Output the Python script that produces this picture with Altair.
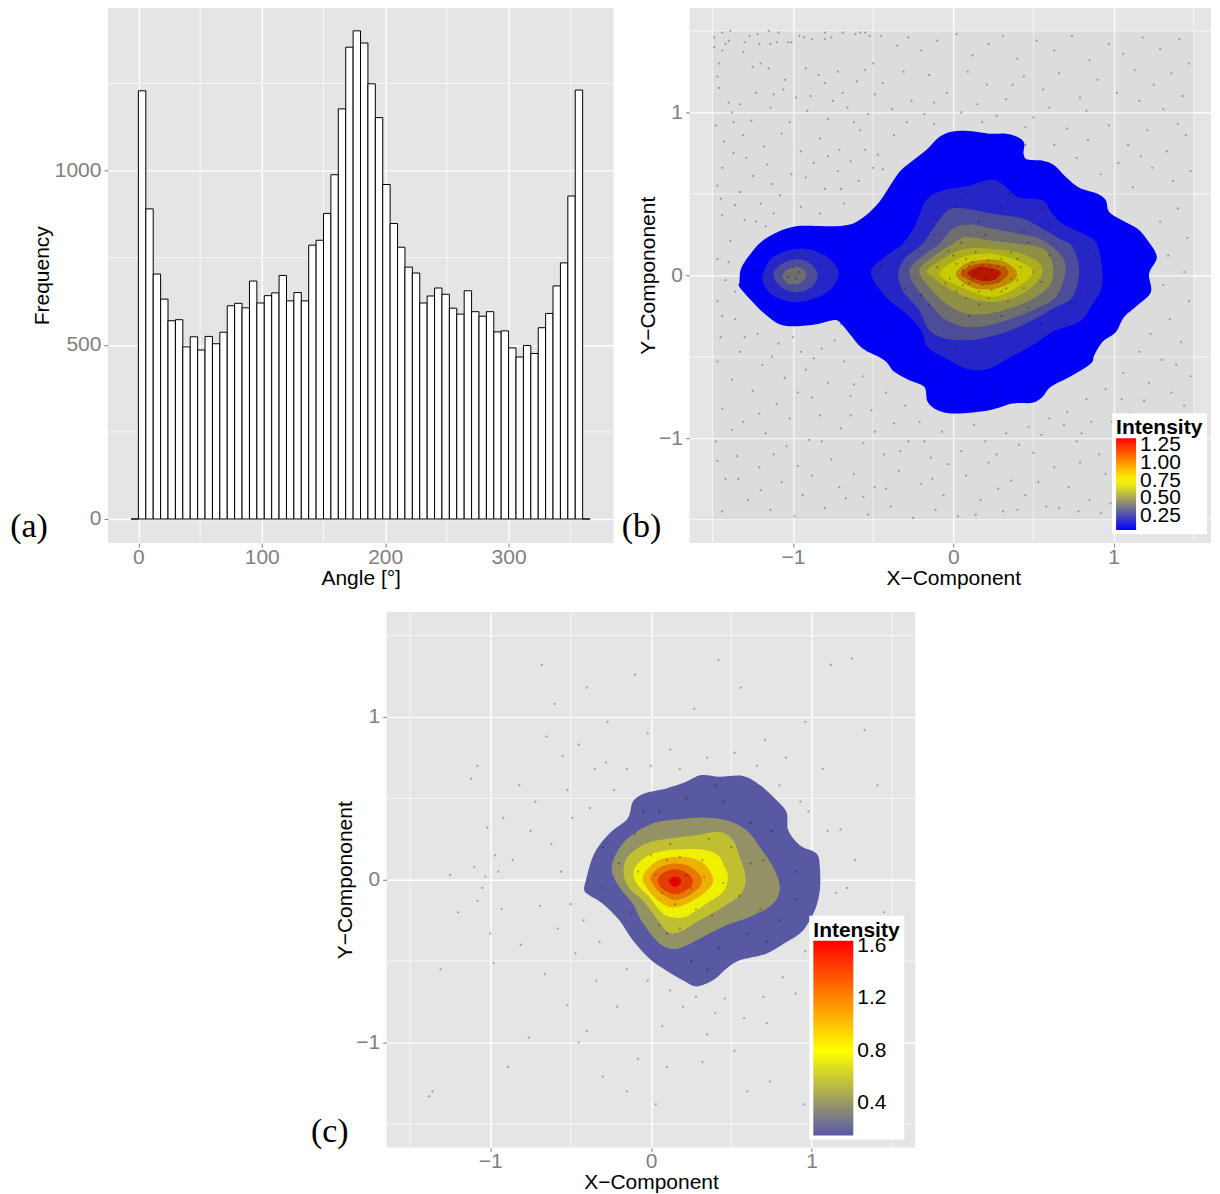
import altair as alt
import pandas as pd

SANS = "Liberation Sans"
SERIF = "Liberation Serif"
GREY = "#7f7f7f"
PANEL = "#e5e5e5"

# ---------- panel (a) histogram ----------
bin_width = 6
hist_first_edge = -6
hist_counts = [0, 1229, 890, 703, 631, 569, 572, 494, 523, 485, 524, 503, 536, 612, 619, 606, 683, 620, 641, 649,
               699, 626, 650, 626, 786, 800, 877, 988, 1177, 1354, 1401, 1366, 1249, 1152, 960, 848, 780, 723,
               706, 620, 640, 663, 645, 605, 588, 655, 595, 582, 595, 537, 540, 491, 465, 498, 475, 549, 590,
               669, 735, 927, 1231, 0]
a_x_major = [0, 100, 200, 300]
a_x_minor = [50, 150, 250, 350]
a_y_major = [0, 500, 1000]
a_y_minor = [250, 750, 1250]

# ---------- panel (b) contours: (level, part, [(x, y), ...]) ----------
b_levels = [0.06, 0.175, 0.29, 0.40, 0.52, 0.635, 0.75, 0.92, 1.08, 1.25]
b_outer = [(-1.333,-.041),(-1.323,.041),(-1.271,.123),(-1.198,.205),(-1.095,.266),(-.980,.301),(-.856,.303),(-.731,.301),
           (-.627,.317),(-.544,.368),(-.461,.450),(-.399,.542),(-.336,.634),(-.264,.695),(-.170,.767),(-.087,.849),
           (-.004,.883),(.100,.885),(.224,.869),(.328,.869),(.401,.849),(.442,.812),(.438,.746),(.463,.710),(.557,.703),
           (.629,.675),(.702,.603),(.785,.538),(.899,.501),(.951,.460),(.972,.389),(1.055,.337),(1.149,.286),(1.211,.215),
           (1.269,.112),(1.221,.010),(1.232,-.102),(1.149,-.184),(1.065,-.256),(1.014,-.348),(.930,-.409),(.879,-.491),
           (.858,-.542),(.744,-.614),(.609,-.685),(.557,-.746),(.494,-.783),(.370,-.787),(.224,-.828),(.017,-.849),
           (-.098,-.828),(-.160,-.777),(-.181,-.685),(-.274,-.644),(-.368,-.593),(-.430,-.521),(-.565,-.450),(-.648,-.358),
           (-.710,-.286),(-.752,-.276),(-.856,-.301),(-.980,-.313),(-1.084,-.301),(-1.178,-.235),(-1.261,-.153),(-1.333,-.072)]
b_l2_main = [(-.513,.014),(-.430,.112),(-.316,.194),(-.233,.317),(-.170,.460),(-.066,.521),(.079,.546),(.235,.587),(.318,.552),
             (.401,.481),(.557,.460),(.609,.389),(.681,.317),(.806,.256),(.899,.184),(.930,-.051),(.858,-.194),(.785,-.286),
             (.619,-.348),(.494,-.429),(.359,-.501),(.224,-.573),(.100,-.579),(-.046,-.511),(-.160,-.440),(-.201,-.337),
             (-.295,-.235),(-.420,-.133)]
b_l2_left = [(-1.188,0),(-1.136,.102),(-1.022,.153),(-.897,.160),(-.773,.102),(-.714,.010),(-.762,-.082),(-.866,-.143),
             (-1.001,-.164),(-1.126,-.123),(-1.178,-.061)]
b_l3_left = [(-1.122,0),(-1.084,.061),(-1.001,.096),(-.918,.088),(-.856,.031),(-.849,-.020),(-.897,-.082),(-.991,-.102),(-1.074,-.072)]
b_l4_left = [(-1.063,0),(-1.032,.037),(-.980,.051),(-.928,.031),(-.918,-.010),(-.960,-.051),(-1.022,-.055),(-1.053,-.031)]
b_l3_main = [(-.343,.020),(-.295,.112),(-.191,.194),(-.098,.327),(-.015,.409),(.120,.403),(.266,.374),(.432,.348),(.557,.286),
             (.660,.225),(.744,.174),(.785,.031),(.744,-.133),(.619,-.205),(.494,-.276),(.359,-.337),(.224,-.378),(.100,-.399),
             (-.046,-.389),(-.150,-.337),(-.212,-.215),(-.316,-.092)]
b_l4_main = [(-.274,.031),(-.201,.112),(-.087,.194),(-.004,.286),(.100,.311),(.245,.286),(.401,.256),(.557,.215),(.681,.112),
             (.698,.010),(.640,-.133),(.515,-.205),(.390,-.256),(.224,-.307),(.079,-.317),(-.046,-.276),(-.129,-.194),(-.233,-.072)]
b_l5 = [(-.212,.031),(-.129,.112),(-.004,.194),(.079,.235),(.224,.215),(.390,.194),(.557,.164),(.619,.072),(.609,-.051),
        (.515,-.133),(.380,-.194),(.224,-.235),(.079,-.235),(-.046,-.174),(-.150,-.072)]
b_l6 = [(-.160,.031),(-.046,.112),(.079,.164),(.224,.164),(.390,.143),(.515,.092),(.557,.031),(.515,-.051),(.390,-.133),
        (.224,-.164),(.079,-.133),(-.046,-.072),(-.129,-.010)]
b_l7 = [(-.087,.010),(-.004,.082),(.100,.123),(.224,.133),(.370,.102),(.474,.051),(.494,.010),(.432,-.051),(.328,-.112),
        (.224,-.133),(.100,-.092),(-.004,-.051)]
b_l8 = [(.017,.010),(.079,.072),(.183,.096),(.307,.088),(.390,.031),(.380,-.031),(.266,-.082),(.141,-.082),(.058,-.041)]
b_l9 = [(.048,.014),(.120,.061),(.224,.072),(.328,.041),(.339,0),(.266,-.051),(.162,-.055),(.079,-.020)]
b_l10 = [(.089,.014),(.162,.051),(.245,.041),(.297,.014),(.245,-.031),(.162,-.031)]
b_contours = [(b_levels[0], "o", b_outer), (b_levels[1], "m", b_l2_main), (b_levels[1], "l", b_l2_left),
              (b_levels[2], "m", b_l3_main), (b_levels[2], "l", b_l3_left), (b_levels[3], "m", b_l4_main),
              (b_levels[3], "l", b_l4_left), (b_levels[4], "m", b_l5), (b_levels[5], "m", b_l6),
              (b_levels[6], "m", b_l7), (b_levels[7], "m", b_l8), (b_levels[8], "m", b_l9), (b_levels[9], "m", b_l10)]
b_legend_values = [0.25, 0.5, 0.75, 1.0, 1.25]
b_color_domain = [0.06, 0.75, 1.34]
b_color_range = ["#0000ff", "#ffff00", "#ff0000"]
b_cloud = [(-1.5, 1.5, -1.5, 1.5)]
b_dots = [(-1.49,1.46),(-1.44,1.49),(-1.39,1.50),(-1.15,1.50),(-1.09,1.49),(-1.27,1.47),(-1.22,1.48),(-1.40,1.44),(-1.42,1.42),
 (-1.49,1.40),(-1.44,1.38),(-1.30,1.43),(-1.31,1.37),(-1.21,1.42),(-1.14,1.42),(-1.10,1.43),(-1.03,1.43),(-1.01,1.43),(-.96,1.47),
 (-.93,1.46),(-.88,1.45),(-.80,1.49),(-.80,1.45),(-.76,1.46),(-.69,1.49),(-.61,1.48),(-.58,1.49),(-.55,1.49),(-.52,1.47),(-.45,1.47),
 (-1.46,1.30),(-1.47,1.22),(-1.46,1.15),(-1.40,1.06),(-1.33,1.05),(-1.25,1.28),(-1.20,1.30),(-1.15,1.27),(-1.05,1.20),(-1.06,1.14),
 (-.92,1.27),(-.89,1.10),(-.84,1.23),(-.80,1.18),(-.72,1.25),(-.69,1.12),(-.60,1.19),(-.55,1.26),(-.50,1.30),(-.44,1.18),
 (-.35,1.41),(-.28,1.46),(-.20,1.38),(-.10,1.44),(.02,1.48),(.12,1.35),(.22,1.42),(.31,1.47),(.40,1.33),(.52,1.44),(.63,1.38),(.74,1.47),
 (.85,1.32),(.97,1.42),(1.06,1.36),(1.18,1.46),(1.29,1.39),(1.41,1.45),(1.47,1.30),(1.36,1.24),(1.25,1.17),(1.13,1.26),(1.02,1.12),(.90,1.20),
 (.79,1.09),(.66,1.24),(.56,1.14),(.44,1.22),(.33,1.08),(.21,1.17),(.09,1.25),(-.04,1.12),(-.15,1.23),(-.26,1.07),(-.38,1.02),(-.53,.99),
 (-.66,1.03),(-.78,.96),(-.91,1.01),(-1.02,.94),(-1.14,1.03),(-1.26,.95),(-1.38,1.00),(-1.48,.92),(-1.43,.82),(-1.31,.86),(-1.18,.79),
 (-1.07,.87),(-.95,.76),(-.83,.84),(-.71,.77),(-.58,.89),(-.47,.74),(-.37,.86),(-.29,.94),(-.18,.99),(.05,1.00),(.27,.98),(.50,.97),(.71,.90),
 (.84,.83),(.97,.92),(1.09,.80),(1.21,.89),(1.33,.76),(1.45,.86),(1.48,.64),(1.37,.58),(1.24,.66),(1.12,.54),(1.40,.41),(1.29,.33),(1.46,.23),
 (1.34,.12),(1.44,.02),(1.31,-.06),(1.47,-.16),(1.35,-.27),(1.23,-.36),(1.42,-.41),(1.30,-.52),(1.16,-.47),(1.48,-.62),(1.36,-.72),(1.22,-.66),
 (1.06,-.60),(.95,-.70),(.83,-.76),(.71,-.84),(.60,-.88),(.47,-.93),(.33,-.97),(.20,-1.02),(.05,-1.08),(-.07,-.96),(-.21,-.90),(-.30,-.80),
 (-.42,-.72),(-.56,-.62),(-.68,-.53),(-.82,-.45),(-.95,-.47),(-1.09,-.42),(-1.22,-.36),(-1.36,-.27),(-1.47,-.16),(-1.42,-.03),(-1.47,.10),
 (-1.39,.21),(-1.30,.34),(-1.44,.37),(-1.20,.44),(-1.33,.51),(-1.47,.55),(-1.08,.49),(-.95,.42),(-.80,.53),(-.68,.44),(-.59,.58),(-.72,.64),
 (-.87,.69),(-1.01,.62),(-1.16,.68),(-1.29,.72),(-1.44,.66),(-.50,.66),(-1.45,-.38),(-1.33,-.47),(-1.19,-.55),(-1.05,-.63),(-.92,-.58),(-.78,-.66),
 (-.64,-.74),(-.51,-.83),(-.37,-.91),(-1.47,-.53),(-1.38,-.64),(-1.25,-.71),(-1.10,-.79),(-.97,-.72),(-.83,-.86),(-.70,-.94),(-.56,-1.03),(-.43,-1.10),
 (-.28,-1.02),(-.14,-1.12),(-1.44,-.82),(-1.31,-.90),(-1.17,-.97),(-1.04,-1.05),(-.90,-1.01),(-.76,-1.13),(-.62,-1.22),(-.49,-1.30),(-.34,-1.20),
 (-.20,-1.28),(-.06,-1.35),(.08,-1.23),(.22,-1.15),(.36,-1.26),(.50,-1.09),(.63,-1.18),(.77,-1.02),(.91,-1.10),(.99,-.90),(1.10,-.85),
 (-1.48,-1.02),(-1.35,-1.11),(-1.21,-1.18),(-1.07,-1.27),(-.94,-1.35),(-.80,-1.43),(-.67,-1.37),(-.53,-1.47),(-.39,-1.42),(-.25,-1.49),(-.11,-1.44),
 (.03,-1.48),(.17,-1.38),(.31,-1.45),(.45,-1.35),(.58,-1.42),(.72,-1.30),(.85,-1.38),(-1.42,-1.25),(-1.28,-1.38),(-1.44,-1.45),(-1.14,-1.44),(-.99,-1.48),
 (.92,-1.46),(1.00,-1.25),(.80,-.97),(-.02,.60),(.12,.75),(.25,.70),(.38,.60),(-.12,.35),(.02,.42),(.16,.33),(.30,.42),(.44,.27),(.60,.30),(.74,.37),
 (.88,.33),(1.02,.18),(1.15,.10),(1.02,-.05),(1.10,-.22),(.95,-.22),(.83,-.33),(.70,-.47),(.55,-.55),(.40,-.62),(.25,-.70),(.10,-.72),(-.05,-.62),
 (-.25,-.50),(-.40,-.33),(-.55,-.22),(-.65,-.05),(-.60,.12),(-.45,.24),(-.72,.20),(-.85,.22),(-1.0,.24),(-1.15,.18),(-1.25,.03),(-1.18,-.17),(-1.0,-.24),
 (-.85,-.22),(-.72,-.17),(-1.0,.05),(-.98,-.02),(-1.03,-.01),(-.96,.02),(-.30,-.08),(-.15,-.18),(-.05,-.05),(.0,.12),(.06,.03),(.10,-.05),(.14,.02),(.18,.06),
 (.20,-.02),(.24,.03),(.28,-.04),(.32,.05),(.16,-.10),(.24,-.09),(.08,.10),(.30,.10),(.42,.05),(.44,-.08),(.34,-.16),(.16,-.18),(-.03,.15),(.55,-.04),
 (-1.37,.94),(-1.23,1.12),(-1.12,1.11),(-.98,1.09),(-.75,1.07),(-.62,.94),(-.49,1.11),(-.31,1.25),(-.12,1.06),(.15,1.05),(.37,1.17),(.60,1.03),(.83,1.01),
 (1.16,1.07),(1.31,1.02),(1.43,1.10),(1.40,.93),(1.17,.73),(1.03,.69),(.92,.62),(.77,.72),(.63,.80),(.45,.91),(.18,.94),(-.12,.93),(-.44,.65),(-.55,.77),
 (-.64,.70),(-.78,.73),(-.92,.60),(-1.13,.56),(-1.25,.61),(-1.37,.75),(-1.45,.47),(-1.36,.43),(-1.23,.33),(-1.12,.38),(-.83,.38),(-.70,.53),(-1.40,.08),
 (-1.36,-.10),(-1.44,-.25),(-1.30,-.38),(-1.13,-.50),(-1.00,-.38),(-.87,-.51),(-.74,-.40),(-.62,-.67),(-.88,-.75),(-1.02,-.88),(-1.21,-.85),(-1.38,-.95),
 (-1.47,-1.14),(-1.12,-1.10),(-.97,-1.17),(-.82,-1.02),(-.64,-.86),(-.49,-.96),(-.33,-1.08),(-.18,-1.02),(-.03,-1.16),(.13,-.92),(.27,-1.10),(.41,-1.04),
 (.55,-.98),(.69,-.92),(.86,-.90),(1.05,-.76),(1.19,-.77),(1.30,-.88),(1.44,-.80),(1.39,-.55),(1.45,-1.00),(1.33,-1.10),(1.20,-1.00),(1.05,-1.00),
 (-.71,-1.30),(-.42,-1.31),(-.56,-1.36),(-.88,-1.23),(-1.20,-1.32),(-1.34,-1.25),(-.13,-1.25),(.14,-1.47),(.28,-1.31),(.40,-1.44),(.53,-1.27),(.66,-1.43),
 (.79,-1.15),(.95,-1.22),(.78,-1.45),(.98,-1.40),(-1.17,.30),(-.70,-.30),(.45,.80),(.15,.62),(-.08,.68),(-.25,.58),(-.38,.40),(-.45,.05),(-.52,-.12),(-.30,-.30),
 (-.15,-.62),(.02,-.45),(.20,-.45),(.35,-.55),(.55,-.30),(.70,-.30),(.80,-.10),(.85,.15),(.55,.40),(.35,.50),(.08,.50),(-.12,.25),(-.22,.15),(-.20,-.12),
 (.30,-.25),(.10,-.25),(.47,-.20),(.60,.12),(.47,.20),(.20,.25),(.05,.20),(-.10,.05),(.02,-.10),(.10,.06),(.22,.09),(.28,.06),(.36,-.02),(.12,-.02),(.18,-.06),
 (.26,-.02),(.30,-.10),(.22,-.14),(.08,-.14),(.40,.10),(.50,.02),(.36,.14),(.14,.14),(.02,.07),(-.02,-.02),(.06,-.06),(.33,-.08),(.40,-.03),(.12,.08),(.16,.04),(.21,.00),(.23,.06)]

# ---------- panel (c) contours ----------
c_levels = [0.16, 0.40, 0.60, 0.80, 1.00, 1.20, 1.40, 1.60]
c_l1 = [(-.415,-.065),(-.405,-.003),(-.353,.161),(-.259,.284),(-.145,.376),(-.113,.479),(-.041,.530),(.095,.561),(.219,.602),(.313,.643),
        (.427,.633),(.573,.637),(.677,.582),(.760,.510),(.843,.417),(.854,.305),(.926,.212),(1.030,.161),(1.051,.079),(1.051,-.065),(1.020,-.188),
        (.947,-.311),(.843,-.383),(.718,-.454),(.552,-.495),(.469,-.547),(.386,-.618),(.282,-.655),(.199,-.618),(.095,-.557),(-.009,-.485),
        (-.113,-.372),(-.197,-.249),(-.300,-.147),(-.384,-.095)]
c_l2 = [(-.244,.058),(-.217,.161),(-.134,.264),(.011,.346),(.157,.370),(.323,.383),(.469,.366),(.594,.305),(.677,.202),(.760,.079),(.802,-.044),
        (.760,-.147),(.614,-.229),(.469,-.280),(.323,-.352),(.199,-.413),(.115,-.424),(.032,-.372),(-.061,-.249),(-.113,-.147),(-.197,-.044)]
c_l3 = [(-.170,.038),(-.145,.141),(-.030,.223),(.115,.253),(.282,.274),(.427,.294),(.510,.243),(.552,.141),(.589,.017),(.562,-.085),(.448,-.167),
        (.303,-.249),(.178,-.321),(.105,-.321),(.043,-.249),(-.051,-.126),(-.134,-.054)]
c_l4 = [(-.109,.038),(-.082,.099),(.011,.161),(.157,.186),(.323,.186),(.417,.151),(.459,.079),(.479,.017),(.448,-.075),(.344,-.147),(.219,-.225),
        (.115,-.229),(.053,-.188),(-.009,-.106),(-.082,-.034)]
c_l5 = [(-.051,.017),(-.009,.079),(.074,.130),(.199,.141),(.313,.110),(.375,.038),(.382,-.024),(.313,-.095),(.199,-.157),(.115,-.167),(.032,-.116),(-.030,-.044)]
c_l6 = [(-.003,.017),(.043,.069),(.136,.100),(.240,.083),(.313,.017),(.303,-.044),(.219,-.106),(.136,-.122),(.053,-.075),(.011,-.024)]
c_l7 = [(.043,.007),(.084,.048),(.157,.065),(.230,.038),(.261,-.013),(.219,-.065),(.147,-.089),(.084,-.065),(.053,-.034)]
c_l8 = [(.111,-.007),(.136,.017),(.167,.017),(.188,-.007),(.167,-.040),(.134,-.040)]
c_contours = [(lv, "m", pts) for lv, pts in zip(c_levels, [c_l1, c_l2, c_l3, c_l4, c_l5, c_l6, c_l7, c_l8])]
c_legend_values = [0.4, 0.8, 1.2, 1.6]
c_color_domain = [0.153, 0.8, 1.64]
c_color_range = ["#5858a8", "#ffff00", "#ff0000"]
c_dots = [(-1.36,-1.30),(-1.08,.70),(-1.02,.32),(-.97,.15),(-1.05,-.05),(-1.00,-.33),(-.98,-.51),(-1.08,-.13),(-1.12,.62),(-1.25,.03),(-1.31,-.55),(-1.38,-1.33),
 (-.60,1.08),(-.68,1.32),(-.55,.76),(-.45,.83),(-.35,.68),(-.27,.97),(-.10,1.26),(-.02,.90),(.12,.80),(.27,1.05),(.42,1.35),(.56,1.18),(.71,.86),(.84,.75),
 (.96,.97),(1.12,1.32),(1.25,1.36),(1.33,.92),(1.41,.58),(1.07,.68),(.93,.48),(1.18,.31),(1.27,.12),(1.15,-.08),(1.08,-.25),(.96,-.44),(.82,-.60),(.70,-.72),
 (.58,-.85),(.46,-.73),(.35,-.95),(.20,-.78),(.07,-.90),(-.08,-1.10),(-.21,-.78),(-.34,-.62),(-.47,-.45),(-.58,-.30),(-.69,-.16),(-.56,.05),(-.62,.22),
 (-.49,.38),(-.38,.44),(-.23,.55),(-.72,.48),(-.81,-.40),(-.66,-.58),(-.52,-.77),(-.40,-.93),(-.30,-1.21),(-.76,-.97),(-.89,-1.15),(-.15,-1.30),(.03,-1.38),
 (.32,-1.12),(.52,-1.05),(.74,-1.24),(.95,-1.38),(1.22,-.72),(1.34,-.46),(1.45,-.20),(-.10,.28),(.05,.42),(.22,.50),(.45,.48),(.62,.35),(.70,.12),(.90,.05),
 (.80,-.25),(.60,-.33),(.42,-.42),(.25,-.50),(.10,-.33),(.28,-.18),(.45,-.02),(.32,.12),(.12,.22),(.15,-.15),(.03,.03),(.22,.03),(.50,.20),(-.20,.10),(-.30,-.05),(-.12,-.20),
 (-.95,.05),(-1.03,.02),(-1.10,.08),(-.93,-.18),(-.86,.12),(-.75,.30),(-.82,.58),(-.40,1.18),(-.52,.55),(-.28,.72),(-.15,.68),(.00,.70),(.18,.68),(.35,.75),(.52,.78),
 (.66,.70),(.80,.58),(.98,.42),(1.10,.30),(1.22,-.05),(1.10,-.50),(.90,-.70),(.72,-.88),(.40,-.82),(.28,-.72),(.12,-.68),(-.02,-.62),(-.15,-.55),(-.32,-.38),(-.42,-.25),
 (-.50,-.15),(-.30,.20),(-.05,.42),(.40,.58),(.75,.30),(.90,-.12),(.72,-.38),(.35,-.55),(.05,-.28),(-.08,.05),(.00,.15),(.18,.14),(.36,.25),(.55,-.10),(.38,-.22),(.18,-.30),
 (.07,-.08),(.25,-.05),(.33,.02),(.10,.12),(.68,-.18),(.62,.10),(-.65,.88),(-.92,.38),(-1.20,-.20),(-.45,-1.00),(.10,-1.15),(.60,-1.30),(1.05,-1.05),(1.30,-.90)]

# ---------- shared helpers ----------
def axis(values, title, horizontal, **kw):
    return alt.Axis(values=values, title=title, grid=True, gridColor="white", gridWidth=1.4, domain=False,
                    tickColor=GREY, tickSize=4, tickWidth=1, labelColor=GREY, labelFont=SANS, labelFontSize=21,
                    labelPadding=-1 if horizontal else 3, titleFont=SANS, titleFontSize=21, titleColor="black",
                    titleFontWeight="normal", format="d", labelOverlap=False, **kw)

def tag(label, x, y):
    return alt.Chart(pd.DataFrame({"t": [label]})).mark_text(font=SERIF, fontSize=34, color="black").encode(
        text="t:N", x=alt.value(x), y=alt.value(y))

def contour_frame(contours):
    rows = []
    for i, (level, part, pts) in enumerate(contours):
        for j, (px, py) in enumerate(pts):
            rows.append({"level": level, "part": f"{i}{part}", "seq": j, "x": px, "y": py})
    return pd.DataFrame(rows)

def density_panel(contours, dots, domain, colors, values, lx, ly, shade, dot_opacity, dot_size, label, lab_x, lab_y,
                  cloud=None, width=528, height=537, x_max=1.645, y_dom=(-1.645, 1.645), title_x=None):
    xs = alt.Scale(domain=[-1.645, x_max], nice=False, zero=False)
    ys = alt.Scale(domain=list(y_dom), nice=False, zero=False)
    extra = {"titleX": title_x} if title_x else {}
    xa = axis([-1, 0, 1], "X\u2212Component", True, titlePadding=0, **extra)
    ya = axis([-1, 0, 1], "Y\u2212Compononent", False, titlePadding=0)
    X = lambda f: alt.X(f, scale=xs, axis=xa)
    Y = lambda f: alt.Y(f, scale=ys, axis=ya)
    cf = contour_frame(contours)
    minor = pd.DataFrame({"v": [-1.5, -.5, .5, 1.5]})
    layers = [alt.Chart(minor).mark_rule(color="white", strokeWidth=0.7).encode(x=X("v:Q")),
              alt.Chart(minor).mark_rule(color="white", strokeWidth=0.7).encode(y=Y("v:Q"))]
    if cloud:
        cl = pd.DataFrame(cloud, columns=["x0", "x1", "y0", "y1"])
        layers.append(alt.Chart(cl).mark_rect(color="black", opacity=0.035).encode(
            x=X("x0:Q"), x2="x1:Q", y=Y("y0:Q"), y2="y1:Q"))
    legend = alt.Legend(title="Intensity", orient="none", legendX=lx, legendY=ly, values=values, type="gradient",
                        gradientLength=92 if len(values) == 5 else 195, gradientThickness=20 if len(values) == 5 else 40,
                        fillColor="white", padding=4, titleFont=SANS, titleFontSize=21, titleFontWeight="bold", titleColor="black",
                        titlePadding=0, labelFont=SANS, labelFontSize=21, labelColor="black", labelOverlap=False, labelOffset=4,
                        gradientStrokeWidth=0, format=".2f" if len(values) == 5 else ".1f")
    layers.append(alt.Chart(cf).mark_line(interpolate="cardinal-closed", strokeOpacity=0, fillOpacity=1).encode(
        x=X("x:Q"), y=Y("y:Q"), order="seq:Q", detail="part:N",
        fill=alt.Fill("level:Q", scale=alt.Scale(domain=domain, range=colors, interpolate="rgb"), legend=legend)))
    layers.append(alt.Chart(cf).mark_line(interpolate="cardinal-closed", strokeOpacity=0, fill="black", fillOpacity=shade).encode(
        x=X("x:Q"), y=Y("y:Q"), order="seq:Q", detail="part:N"))
    dd = pd.DataFrame(dots, columns=["x", "y"])
    layers.append(alt.Chart(dd).mark_circle(color="black", opacity=dot_opacity, size=dot_size).encode(x=X("x:Q"), y=Y("y:Q")))
    layers.append(tag(label, lab_x, lab_y))
    return alt.layer(*layers).properties(width=width, height=height)

# ---------- panel (a) ----------
edges = [hist_first_edge + bin_width * i for i in range(len(hist_counts) + 1)]
hist = pd.DataFrame({"start": edges[:-1], "end": edges[1:], "count": hist_counts, "base": [0] * len(hist_counts)})
ax_scale = alt.Scale(domain=[-24.7, 385], nice=False, zero=False)
ay_scale = alt.Scale(domain=[-69, 1468], nice=False, zero=False)
a_xa = axis(a_x_major, "Angle [\u00b0]", True, titlePadding=0)
a_ya = axis(a_y_major, "Frequency", False, titlePadding=2)
a_minor_x = pd.DataFrame({"v": a_x_minor})
a_minor_y = pd.DataFrame({"v": a_y_minor})
panel_a = alt.layer(
    alt.Chart(a_minor_x).mark_rule(color="white", strokeWidth=0.7).encode(x=alt.X("v:Q", scale=ax_scale, axis=a_xa)),
    alt.Chart(a_minor_y).mark_rule(color="white", strokeWidth=0.7).encode(y=alt.Y("v:Q", scale=ay_scale, axis=a_ya)),
    alt.Chart(hist).mark_bar(fill="white", stroke="black", strokeWidth=1).encode(
        x=alt.X("start:Q", scale=ax_scale, axis=a_xa), x2="end:Q",
        y=alt.Y("count:Q", scale=ay_scale, axis=a_ya), y2="base:Q"),
    tag("(a)", -79, 520),
).properties(width=506, height=536)

panel_b = density_panel(b_contours, b_dots, b_color_domain, b_color_range, b_legend_values, 423, 406, 0.03, 0.3, 5,
                        "(b)", -48, 520, cloud=b_cloud, width=522, x_max=1.607, height=536, y_dom=(-1.644, 1.644), title_x=264)
panel_c = density_panel(c_contours, c_dots, c_color_domain, c_color_range, c_legend_values, 423, 304, 0.015, 0.3, 5,
                        "(c)", -57, 520, height=536, width=529)

spacer = alt.Chart(pd.DataFrame({"s": [0]})).mark_point(opacity=0).encode(x=alt.value(0), y=alt.value(0)).properties(
    width=279, height=536, view=alt.ViewBackground(fill="white", strokeWidth=0))

top = alt.hconcat(panel_a, panel_b, spacing=76, bounds="flush").resolve_scale(fill="independent").resolve_legend(fill="independent")
bottom = alt.hconcat(spacer, panel_c, spacing=0, bounds="flush").resolve_scale(fill="independent").resolve_legend(fill="independent")
chart = alt.vconcat(top, bottom, spacing=21).resolve_scale(fill="independent").resolve_legend(fill="independent").properties(
    padding={"left": 2, "top": -2, "right": 0, "bottom": 0}, background="white"
).configure_view(fill=PANEL, strokeWidth=0)

chart.save("out.html", embed_options={"renderer": "svg", "actions": False})
